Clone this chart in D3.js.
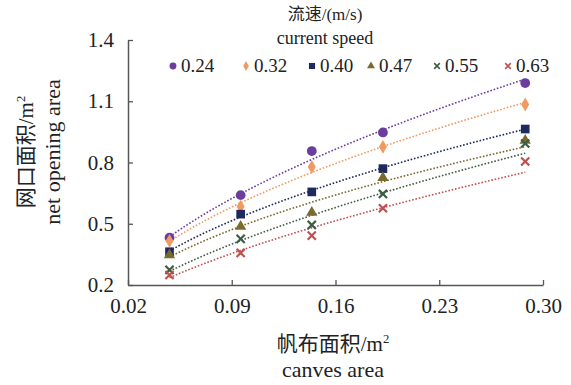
<!DOCTYPE html>
<html>
<head>
<meta charset="utf-8">
<script src="https://cdn.jsdelivr.net/npm/d3@7"></script>
<style>
  body { margin: 0; background: #fff; }
</style>
</head>
<body>
<div id="chart"></div>
<script>
// Data
const canvasArea = [0.048, 0.096, 0.144, 0.192, 0.288];
const speeds = ["0.24", "0.32", "0.40", "0.47", "0.55", "0.63"];
const opening024 = [0.432, 0.640, 0.856, 0.947, 1.189];
const opening032 = [0.416, 0.584, 0.779, 0.877, 1.084];
const opening040 = [0.363, 0.547, 0.656, 0.770, 0.964];
const opening047 = [0.347, 0.486, 0.555, 0.725, 0.908];
const opening055 = [0.274, 0.426, 0.494, 0.646, 0.893];
const opening063 = [0.249, 0.357, 0.442, 0.576, 0.805];
const xTicks = [0.02, 0.09, 0.16, 0.23, 0.30];
const yTicks = [0.2, 0.5, 0.8, 1.1, 1.4];

const seriesValues = [opening024, opening032, opening040, opening047, opening055, opening063];
const colors = ["#6a3d9e", "#f09a62", "#1e2a5e", "#7a6a30", "#3e5e42", "#c0504d"];
const shapes = [d3.symbolCircle, d3.symbolDiamond, d3.symbolSquare, d3.symbolTriangle, d3.symbolX, d3.symbolX];
const sizes = [75, 55, 75, 55, 45, 45];

const serif = "'Liberation Serif', 'Times New Roman', serif";
const cjk = "'Noto Sans CJK SC', 'Liberation Serif', serif";

// Set up the SVG element and dimensions
const svgWidth = 571;
const svgHeight = 385;
const margin = { top: 40, right: 28, bottom: 100, left: 128 };
const chartWidth = svgWidth - margin.left - margin.right;
const chartHeight = svgHeight - margin.top - margin.bottom;

const svg = d3.select("#chart")
  .append("svg")
  .attr("width", svgWidth)
  .attr("height", svgHeight);

const chart = svg.append("g")
  .attr("transform", `translate(${margin.left}, ${margin.top})`);

// Scales
const xScale = d3.scaleLinear().domain([0.02, 0.30]).range([0, chartWidth]);
const yScale = d3.scaleLinear().domain([0.2, 1.4]).range([chartHeight, 0]);

// Axes
const xAxis = d3.axisBottom(xScale)
  .tickValues(xTicks)
  .tickFormat(d3.format(".2f"))
  .tickSizeInner(-5)
  .tickSizeOuter(0)
  .tickPadding(10);

const yAxis = d3.axisLeft(yScale)
  .tickValues(yTicks)
  .tickFormat(d3.format(".1f"))
  .tickSizeInner(-5)
  .tickSizeOuter(0)
  .tickPadding(14);

const gx = chart.append("g")
  .attr("transform", `translate(0, ${chartHeight})`)
  .call(xAxis);
const gy = chart.append("g").call(yAxis);

[gx, gy].forEach(g => {
  g.attr("font-family", null);
  g.select(".domain").attr("stroke", "#555").attr("stroke-width", 1.5);
  g.selectAll(".tick line").attr("stroke", "#555").attr("stroke-width", 1.3);
  g.selectAll(".tick text")
    .style("font-family", serif)
    .style("font-size", "21px")
    .attr("fill", "#222");
});
gx.selectAll(".tick text").attr("dy", "0.85em");

// Power trendlines (least squares on log-log)
function powerFit(xs, ys) {
  const lx = xs.map(Math.log), ly = ys.map(Math.log);
  const mx = d3.mean(lx), my = d3.mean(ly);
  const b = d3.sum(lx, (v, i) => (v - mx) * (ly[i] - my)) / d3.sum(lx, v => (v - mx) * (v - mx));
  const a = Math.exp(my - b * mx);
  return x => a * Math.pow(x, b);
}

const line = d3.line()
  .x(d => xScale(d[0]))
  .y(d => yScale(d[1]));

const xExtent = d3.extent(canvasArea);
const samples = d3.range(0, 41).map(i => xExtent[0] + (xExtent[1] - xExtent[0]) * i / 40);

seriesValues.forEach((vals, s) => {
  const f = powerFit(canvasArea, vals);
  chart.append("path")
    .datum(samples.map(x => [x, f(x)]))
    .attr("fill", "none")
    .attr("stroke", colors[s])
    .attr("stroke-width", 1.6)
    .attr("stroke-dasharray", "1.6,1.8")
    .attr("d", line);
});

// Points
seriesValues.forEach((vals, s) => {
  const stroked = shapes[s] === d3.symbolX;
  chart.append("g")
    .selectAll("path")
    .data(vals.map((v, i) => [canvasArea[i], v]))
    .join("path")
    .attr("transform", d => `translate(${xScale(d[0])}, ${yScale(d[1])})`)
    .attr("d", d3.symbol().type(shapes[s]).size(sizes[s]))
    .attr("fill", stroked ? "none" : colors[s])
    .attr("stroke", stroked ? colors[s] : "none")
    .attr("stroke-width", stroked ? 2.2 : 0);
});

// Legend
const legendX = [173, 246, 312, 371, 437, 508];
const legend = svg.append("g").attr("transform", "translate(0, 66)");
speeds.forEach((label, s) => {
  const stroked = shapes[s] === d3.symbolX;
  legend.append("path")
    .attr("transform", `translate(${legendX[s]}, 0)`)
    .attr("d", d3.symbol().type(shapes[s]).size(sizes[s] * 0.5))
    .attr("fill", stroked ? "none" : colors[s])
    .attr("stroke", stroked ? colors[s] : "none")
    .attr("stroke-width", stroked ? 1.6 : 0);
  legend.append("text")
    .attr("x", legendX[s] + 8)
    .attr("y", 6)
    .style("font-family", serif)
    .style("font-size", "19px")
    .attr("fill", "#222")
    .text(label);
});

// text helper: Chinese part in CJK font, latin tail in serif, optional superscript
function addText(parent, x, y, size, family, str, tail, sup) {
  const t = parent.append("text")
    .attr("x", x)
    .attr("y", y)
    .attr("text-anchor", "middle")
    .attr("fill", "#222")
    .style("font-family", family)
    .style("font-size", size + "px")
    .text(str);
  if (tail) {
    t.append("tspan").style("font-family", serif).text(tail);
  }
  if (sup) {
    t.append("tspan")
      .attr("dy", -size * 0.38)
      .style("font-family", serif)
      .style("font-size", (size * 0.6) + "px")
      .text(sup);
  }
  return t;
}

// Legend title
addText(svg, 325, 20, 17, cjk, "流速", "/(m/s)");
addText(svg, 325, 44, 18, serif, "current speed");

// Y axis title
const yTitle = svg.append("g").attr("transform", "translate(0, 152) rotate(-90)");
addText(yTitle, 0, 33, 21, cjk, "网口面积", "/m", "2");
addText(yTitle, 0, 60, 22, serif, "net opening area");

// X axis title
addText(svg, 333, 351, 21, cjk, "帆布面积", "/m", "2");
addText(svg, 333, 377, 22, serif, "canves area");
</script>
</body>
</html>
